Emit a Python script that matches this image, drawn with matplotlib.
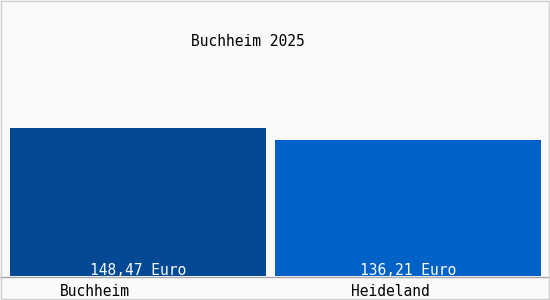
"""Bar chart: average value per town, Buchheim vs Heideland."""

import matplotlib

matplotlib.use("Agg")
import matplotlib.pyplot as plt
from matplotlib.patches import Rectangle

# data
categories = ["Buchheim", "Heideland"]
values = [148.47, 136.21]
value_labels = ["148,47 Euro", "136,21 Euro"]
title = "Buchheim 2025"

# layout (pixel-like units: x in px, y in euro, 1 euro ~ 1 px)
bar_lefts = [10, 275]
bar_widths = [256, 266]
label_x = [95, 390]
bar_colors = ["#034994", "#0062c6"]
bg = "#fafafa"
font = "DejaVu Sans Mono"

fig = plt.figure(figsize=(5.5, 3.0), dpi=100, facecolor=bg)
ax = fig.add_axes([0, 0, 1, 1])
ax.set_facecolor(bg)
ax.set_xlim(0, 550)
ax.set_ylim(-24, 276)
ax.axis("off")

ax.bar(bar_lefts, values, width=bar_widths, align="edge", color=bar_colors, zorder=2)
ax.axhline(-0.5, color="#a8a8a8", lw=1, zorder=3)

for left, w, lab in zip(bar_lefts, bar_widths, value_labels):
    ax.text(left + w / 2, 1.0, lab, color="white", fontsize=10.5, family=font,
            ha="center", va="baseline", zorder=4)

for x, cat in zip(label_x, categories):
    ax.text(x, -20, cat, color="black", fontsize=10.5, family=font,
            ha="center", va="baseline")

ax.text(248, 230.5, title, color="black", fontsize=10.5, family=font,
        ha="center", va="baseline")

# thin frame around the whole picture
fig.patches.append(Rectangle((0.001, 0.002), 0.997, 0.995, transform=fig.transFigure,
                             fill=False, edgecolor="#cfcfcf", lw=1))

fig.savefig("out.png", dpi=100, facecolor=bg)
